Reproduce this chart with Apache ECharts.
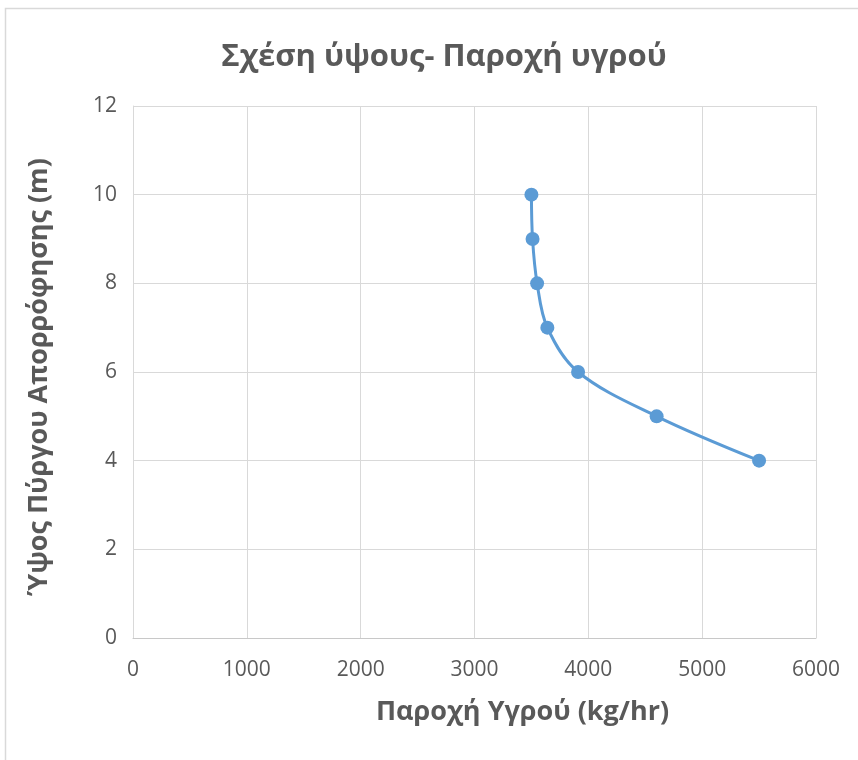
<!DOCTYPE html>
<html>
<head>
<meta charset="utf-8">
<script src="https://cdn.jsdelivr.net/npm/echarts@6/dist/echarts.min.js"></script>
<style>
  html, body { margin: 0; padding: 0; background: #ffffff; }
  #chart { width: 858px; height: 760px; }
</style>
</head>
<body>
<div id="chart"></div>
<script>
// Liquid flow rate (kg/hr) against absorption tower height (m)
const flowRates = [3500, 3510, 3550, 3640, 3910, 4600, 5500];
const towerHeights = [10, 9, 8, 7, 6, 5, 4];

const xTicks = { min: 0, max: 6000, interval: 1000 };
const yTicks = { min: 0, max: 12, interval: 2 };

const titleText = 'Σχέση ύψους- Παροχή υγρού';
const xName = 'Παροχή Υγρού (kg/hr)';
const yName = 'Ύψος Πύργου Απορρόφησης (m)';

const textColor = '#595959';
const gridColor = '#d9d9d9';
const lineColor = '#5b9bd5';
const fontFamily = '"Open Sans", "Noto Sans", sans-serif';

const points = flowRates.map((x, i) => [x, towerHeights[i]]);

const chart = echarts.init(document.getElementById('chart'), null, { renderer: 'canvas' });

chart.setOption({
  backgroundColor: '#ffffff',
  animation: false,
  title: {
    text: titleText,
    left: 439,
    top: 37,
    textAlign: 'center',
    textStyle: {
      color: textColor,
      fontFamily: fontFamily,
      fontWeight: 'bold',
      fontSize: 31
    }
  },
  graphic: [{
    type: 'rect',
    shape: { x: 5.5, y: 8.5, width: 900, height: 800 },
    style: { fill: 'none', stroke: gridColor, lineWidth: 1.5 },
    silent: true
  }],
  grid: { left: 133, right: 42, top: 106, bottom: 122, containLabel: false },
  xAxis: {
    type: 'value',
    min: xTicks.min,
    max: xTicks.max,
    interval: xTicks.interval,
    name: xName,
    nameLocation: 'middle',
    nameGap: 61,
    nameTextStyle: {
      color: textColor, fontFamily: fontFamily, fontWeight: 'bold', fontSize: 27,
      padding: [0, 0, 0, 96]
    },
    axisLine: { show: true, lineStyle: { color: '#c8c8c8', width: 1 } },
    axisTick: { show: false },
    axisLabel: {
      color: textColor, fontFamily: fontFamily, fontSize: 21, margin: 22,
      formatter: v => String(v)
    },
    splitLine: { show: true, lineStyle: { color: gridColor, width: 1 } }
  },
  yAxis: {
    type: 'value',
    min: yTicks.min,
    max: yTicks.max,
    interval: yTicks.interval,
    name: yName,
    nameLocation: 'middle',
    nameGap: 80,
    nameTextStyle: {
      color: textColor, fontFamily: fontFamily, fontWeight: 'bold', fontSize: 27,
      padding: [0, 10, 0, 0]
    },
    axisLine: { show: true, lineStyle: { color: gridColor, width: 1 } },
    axisTick: { show: false },
    axisLabel: {
      color: textColor, fontFamily: fontFamily, fontSize: 21, margin: 16,
      formatter: v => String(v)
    },
    splitLine: { show: true, lineStyle: { color: gridColor, width: 1 } }
  },
  series: [{
    type: 'line',
    data: points,
    smooth: 0.35,
    symbol: 'circle',
    symbolSize: 14,
    lineStyle: { color: lineColor, width: 3 },
    itemStyle: { color: lineColor },
    clip: false
  }]
});
</script>
</body>
</html>
